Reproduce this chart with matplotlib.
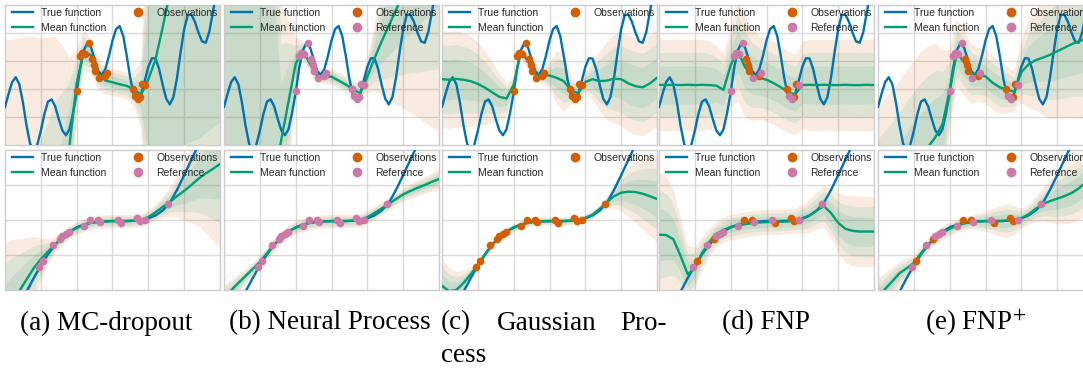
import numpy as np
import matplotlib
matplotlib.use("Agg")
import matplotlib.pyplot as plt
from matplotlib.lines import Line2D

plt.rcParams['font.family'] = ['Liberation Sans', 'DejaVu Sans']
plt.rcParams['mathtext.fontset'] = 'stix'

# sample positions (grid units, 6 wide)
grid_x = np.linspace(0, 6, 31)
top_true_x = np.linspace(0, 6, 61)

# true functions
top_true_y = [1.36, 1.83, 2.25, 2.42, 2.17, 1.52, 0.70, 0.05, -0.20, 0.00,
              0.51, 1.11, 1.55, 1.63, 1.38, 0.93, 0.52, 0.35, 0.56, 1.15,
              1.87, 2.77, 3.38, 3.64, 3.49, 3.07, 2.65, 2.50, 2.71, 3.18,
              3.73, 4.14, 4.25, 3.89, 3.17, 2.36, 1.76, 1.60, 1.83, 2.29,
              2.79, 3.10, 3.09, 2.72, 2.15, 1.65, 1.45, 1.71, 2.40, 3.31,
              4.14, 4.64, 4.66, 4.40, 4.01, 3.70, 3.65, 4.03, 4.74, 5.47, 5.94]
bot_true_y = [-1.4, -0.9, -0.45, -0.05, 0.34, 0.70, 1.02, 1.29, 1.51, 1.67,
              1.79, 1.87, 1.92, 1.95, 1.96, 1.97, 1.97, 1.97, 1.98, 2.0,
              2.05, 2.13, 2.27, 2.49, 2.86, 3.28, 3.72, 4.15, 4.6, 5.1, 5.6]

# data points (context flag: 1 = observation, 0 = reference only)
top_pts_x = [2.00, 2.09, 2.16, 2.24, 2.34, 2.42, 2.48, 2.52, 2.62, 2.79, 2.84,
             3.57, 3.64, 3.71, 3.78, 3.82, 3.91]
top_pts_y = [1.92, 3.17, 3.30, 3.24, 3.64, 3.07, 2.84, 2.65, 2.38, 2.47, 2.56,
             1.99, 1.76, 1.63, 1.72, 2.17, 2.14]
top_pts_ctx = [0, 0, 0, 0, 0, 1, 1, 1, 0, 1, 0, 1, 0, 0, 1, 1, 0]
bot_pts_x = [0.96, 1.07, 1.35, 1.53, 1.58, 1.71, 1.78, 2.21, 2.37, 2.60, 2.65,
             3.14, 3.25, 3.69, 3.76, 3.91, 4.54]
bot_pts_y = [0.65, 0.84, 1.28, 1.45, 1.53, 1.59, 1.66, 1.82, 1.99, 2.01, 1.95,
             2.01, 1.92, 2.05, 1.96, 2.00, 2.45]
bot_pts_ctx = [0, 1, 0, 1, 0, 0, 0, 0, 1, 1, 0, 0, 1, 1, 1, 0, 0]

# predictive means / stds, top row
mean_top_mc = [-19.8, -17.6, -15.4, -13.2, -11.0, -8.8, -6.6, -4.4, -2.2, 0.0, 2.2,
               3.35, 3.2, 2.55, 2.3, 2.24, 2.17, 2.11, 1.98, 1.8, 2.35, 3.05, 4.2,
               5.4, 6.6, 7.8, 9.0, 10.2, 11.4, 12.6, 13.8]
std_top_mc = [9.8, 8.9, 8.0, 7.1, 6.2, 5.25, 4.35, 3.45, 2.4, 1.3, 0.5, 0.3, 0.25,
              0.25, 0.2, 0.2, 0.2, 0.2, 0.25, 0.5, 2.6, 3.4, 4.5, 5.6, 6.7, 7.8,
              8.9, 10.0, 11.0, 12.0, 13.0]
mean_top_np = [-10.7, -9.3, -8.0, -6.6, -5.2, -3.9, -2.5, -1.2, 0.2, 1.55, 2.9,
               3.38, 2.9, 2.48, 2.45, 2.44, 2.3, 2.16, 1.98, 1.85, 2.44, 3.1, 3.7,
               4.26, 4.82, 5.4, 5.95, 6.5, 7.05, 7.6, 8.15]
std_top_np = [16.2, 14.8, 13.5, 12.1, 10.7, 9.4, 8.0, 6.7, 2.0, 1.23, 0.38, 0.15,
              0.12, 0.12, 0.12, 0.12, 0.12, 0.12, 0.12, 0.15, 0.25, 0.5, 0.8, 1.1,
              1.4, 1.7, 2.0, 2.3, 2.6, 2.9, 3.2]
mean_top_gp = [2.35, 2.33, 2.36, 2.33, 2.28, 2.18, 2.05, 1.88, 1.72, 1.66, 2.15,
               3.35, 3.0, 2.55, 2.5, 2.48, 2.4, 2.28, 1.95, 1.85, 2.25, 2.35, 2.28,
               2.3, 2.37, 2.35, 2.2, 2.1, 2.06, 2.2, 2.4]
std_top_gp = [0.72, 0.72, 0.72, 0.7, 0.68, 0.62, 0.55, 0.45, 0.35, 0.25, 0.12,
              0.12, 0.12, 0.12, 0.12, 0.2, 0.4, 0.45, 0.2, 0.12, 0.15, 0.3, 0.45,
              0.58, 0.66, 0.7, 0.72, 0.72, 0.72, 0.72, 0.72]
mean_top_fnp = [2.15, 2.14, 2.15, 2.14, 2.15, 2.14, 2.15, 2.14, 2.12, 1.97, 2.85,
                3.35, 2.78, 2.5, 2.4, 2.33, 2.21, 2.06, 1.9, 1.8, 2.14, 2.15, 2.14,
                2.15, 2.14, 2.14, 2.15, 2.14, 2.14, 2.15, 2.14]
std_top_fnp = [0.68, 0.68, 0.68, 0.68, 0.68, 0.68, 0.68, 0.66, 0.6, 0.55, 0.6,
               0.75, 0.75, 0.68, 0.62, 0.62, 0.62, 0.62, 0.6, 0.6, 0.65, 0.68,
               0.68, 0.68, 0.68, 0.68, 0.68, 0.68, 0.68, 0.68, 0.68]
mean_top_fnpp = [-2.5, -2.2, -1.9, -1.5, -1.1, -0.75, -0.4, -0.07, 0.28, 0.75,
                 1.95, 3.3, 2.95, 2.55, 2.5, 2.45, 2.22, 2.06, 1.97, 1.9, 2.6,
                 2.88, 3.03, 3.12, 3.22, 3.35, 3.47, 3.6, 3.7, 3.8, 3.9]
std_top_fnpp = [1.6, 1.6, 1.6, 1.58, 1.57, 1.56, 1.55, 1.5, 1.4, 1.1, 0.6, 0.5,
                0.5, 0.45, 0.4, 0.4, 0.4, 0.4, 0.35, 0.3, 0.45, 0.65, 0.75, 0.85,
                0.95, 1.0, 1.05, 1.1, 1.15, 1.2, 1.25]

# predictive means / stds, bottom row
mean_bot_mc = [-0.7, -0.35, -0.03, 0.3, 0.62, 0.88, 1.1, 1.3, 1.5, 1.66, 1.77,
               1.86, 1.92, 1.95, 1.96, 1.97, 1.97, 1.97, 1.98, 2.0, 2.08, 2.22,
               2.37, 2.52, 2.68, 2.83, 3.0, 3.18, 3.33, 3.46, 3.6]
std_bot_mc = [0.85, 0.75, 0.62, 0.5, 0.38, 0.25, 0.15, 0.1, 0.08, 0.08, 0.08,
              0.08, 0.08, 0.08, 0.08, 0.08, 0.08, 0.08, 0.08, 0.08, 0.08, 0.1,
              0.13, 0.18, 0.25, 0.35, 0.45, 0.57, 0.7, 0.85, 1.0]
mean_bot_np = [-0.22, -0.01, 0.2, 0.4, 0.6, 0.8, 1.05, 1.3, 1.5, 1.67, 1.78,
               1.86, 1.92, 1.95, 1.96, 1.97, 1.97, 1.97, 1.98, 2.0, 2.08, 2.2,
               2.33, 2.46, 2.6, 2.73, 2.83, 2.92, 3.0, 3.09, 3.17]
std_bot_np = [0.15, 0.13, 0.11, 0.09, 0.08, 0.08, 0.08, 0.08, 0.08, 0.08, 0.08,
              0.08, 0.08, 0.08, 0.08, 0.08, 0.08, 0.08, 0.08, 0.08, 0.08, 0.08,
              0.08, 0.08, 0.08, 0.08, 0.09, 0.1, 0.1, 0.11, 0.12]
mean_bot_gp = [0.12, -0.03, 0.0, 0.2, 0.45, 0.72, 1.02, 1.3, 1.52, 1.67, 1.78,
               1.86, 1.93, 1.96, 1.97, 1.97, 1.97, 1.97, 1.98, 2.0, 2.06, 2.15,
               2.32, 2.5, 2.68, 2.78, 2.81, 2.8, 2.75, 2.68, 2.6]
std_bot_gp = [0.32, 0.28, 0.22, 0.15, 0.08, 0.05, 0.05, 0.05, 0.05, 0.05, 0.05,
              0.05, 0.05, 0.05, 0.05, 0.05, 0.05, 0.05, 0.05, 0.05, 0.05, 0.05,
              0.05, 0.08, 0.14, 0.22, 0.3, 0.36, 0.42, 0.47, 0.52]
mean_bot_fnp = [1.58, 1.57, 1.45, 0.98, 0.45, 0.62, 1.05, 1.37, 1.6, 1.72, 1.8,
                1.84, 1.88, 1.91, 1.93, 1.94, 1.95, 1.95, 1.96, 1.98, 2.03, 2.12,
                2.27, 2.4, 2.2, 1.92, 1.75, 1.69, 1.67, 1.67, 1.67]
std_bot_fnp = [0.75, 0.7, 0.6, 0.45, 0.35, 0.25, 0.2, 0.17, 0.15, 0.15, 0.15,
               0.15, 0.15, 0.15, 0.15, 0.15, 0.15, 0.15, 0.15, 0.15, 0.17, 0.2,
               0.22, 0.25, 0.3, 0.36, 0.4, 0.42, 0.42, 0.42, 0.42]
mean_bot_fnpp = [-0.18, 0.03, 0.25, 0.48, 0.62, 0.77, 1.05, 1.3, 1.5, 1.64, 1.75,
                 1.84, 1.9, 1.94, 1.96, 1.97, 1.97, 1.97, 1.98, 2.0, 2.05, 2.16,
                 2.32, 2.46, 2.54, 2.61, 2.68, 2.77, 2.9, 3.08, 3.2]
std_bot_fnpp = [0.22, 0.2, 0.17, 0.14, 0.12, 0.1, 0.08, 0.08, 0.08, 0.08, 0.08,
                0.08, 0.08, 0.08, 0.1, 0.12, 0.15, 0.18, 0.2, 0.17, 0.12, 0.12,
                0.15, 0.2, 0.25, 0.3, 0.33, 0.35, 0.37, 0.39, 0.4]

# which points each panel shows
top_modes = ['obs', 'ref', 'obs', 'split', 'split']
bot_modes = ['ref', 'ref', 'obs', 'split', 'split']

C_TRUE = '#0072B2'
C_MEAN = '#009E73'
C_OBS = '#D55E00'
C_REF = '#CC79A7'

W, H = 1083, 370
fig = plt.figure(figsize=(W / 100, H / 100), dpi=100)

lefts = [5, 224, 442, 659, 878]
panel_w = 215


def panel(left, top, bottom, ymax, tx, ty, mean, std, px, py, ctx, mode):
    ax_h = bottom - top
    ax = fig.add_axes([left / W, 1 - bottom / H, panel_w / W, ax_h / H])
    mean = np.array(mean)
    std = np.array(std)
    for k, col, a in ((2.4, C_OBS, 0.12), (1.7, C_MEAN, 0.1), (1.0, C_MEAN, 0.1)):
        ax.fill_between(grid_x, mean - k * std, mean + k * std, color=col,
                        alpha=a, lw=0, zorder=1)
    ax.plot(tx, ty, color=C_TRUE, lw=1.7, zorder=3)
    ax.plot(grid_x, mean, color=C_MEAN, lw=1.7, zorder=4)
    px, py, ctx = np.array(px), np.array(py), np.array(ctx)
    if mode == 'obs':
        ax.scatter(px, py, s=30, color=C_OBS, zorder=5, lw=0)
    elif mode == 'ref':
        ax.scatter(px, py, s=30, color=C_REF, zorder=5, lw=0)
    else:
        ax.scatter(px[ctx == 1], py[ctx == 1], s=30, color=C_OBS, zorder=5, lw=0)
        ax.scatter(px[ctx == 0], py[ctx == 0], s=30, color=C_REF, zorder=5, lw=0)
    ax.set_xlim(0, 6)
    ax.set_ylim(0, ymax)
    ax.set_xticks(range(1, 6))
    ax.set_yticks(range(1, ymax))
    ax.tick_params(length=0, labelbottom=False, labelleft=False)
    ax.grid(color='#dadada', lw=1.0, zorder=0)
    ax.set_axisbelow(True)
    for s in ax.spines.values():
        s.set_color('#cccccc')
        s.set_linewidth(1.0)
    handles = [Line2D([], [], color=C_TRUE, lw=1.7, label='True function'),
               Line2D([], [], color=C_MEAN, lw=1.7, label='Mean function'),
               Line2D([], [], color=C_OBS, marker='o', ls='', ms=6, label='Observations')]
    if mode != 'obs':
        handles.append(Line2D([], [], color=C_REF, marker='o', ls='', ms=6,
                              label='Reference'))
    ax.legend(handles=handles, loc='upper left', ncol=2, frameon=False,
              bbox_to_anchor=(5 / panel_w, 1 - 1.0 / ax_h), borderaxespad=0,
              fontsize=7.5, handlelength=2.0, handletextpad=0.8,
              columnspacing=2.0, labelspacing=0.45, borderpad=0.2,
              labelcolor='0.15')
    return ax


top_means = [mean_top_mc, mean_top_np, mean_top_gp, mean_top_fnp, mean_top_fnpp]
top_stds = [std_top_mc, std_top_np, std_top_gp, std_top_fnp, std_top_fnpp]
bot_means = [mean_bot_mc, mean_bot_np, mean_bot_gp, mean_bot_fnp, mean_bot_fnpp]
bot_stds = [std_bot_mc, std_bot_np, std_bot_gp, std_bot_fnp, std_bot_fnpp]

for i in range(5):
    panel(lefts[i], 5, 145, 5, top_true_x, top_true_y, top_means[i], top_stds[i],
          top_pts_x, top_pts_y, top_pts_ctx, top_modes[i])
    panel(lefts[i], 150, 290, 4, grid_x, bot_true_y, bot_means[i], bot_stds[i],
          bot_pts_x, bot_pts_y, bot_pts_ctx, bot_modes[i])

# sub-captions
cap = dict(family=['Liberation Serif', 'DejaVu Serif'], fontsize=19.5, va='center',
           color='black')
y1 = 1 - 323 / H
y2 = 1 - 356 / H
fig.text(106 / W, y1, '(a) MC-dropout', ha='center', **cap)
fig.text(330 / W, y1, '(b) Neural Process', ha='center', **cap)
fig.text(441 / W, y1, '(c)', ha='left', **cap)
fig.text(497 / W, y1, 'Gaussian', ha='left', **cap)
fig.text(620 / W, y1, 'Pro-', ha='left', **cap)
fig.text(441 / W, y2, 'cess', ha='left', **cap)
fig.text(766 / W, y1, '(d) FNP', ha='center', **cap)
fig.text(976 / W, y1, '(e) FNP$^{+}$', ha='center', **cap)

fig.savefig('out.png', dpi=100)
